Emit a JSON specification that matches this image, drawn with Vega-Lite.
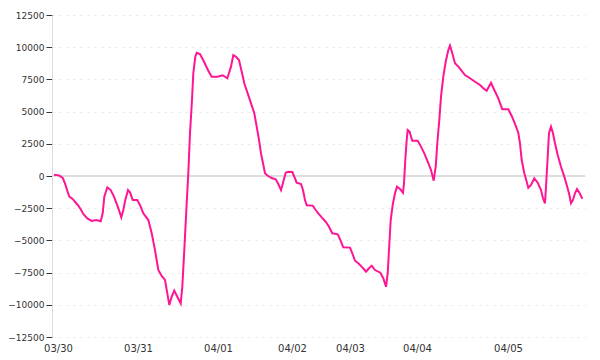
{
  "$schema": "https://vega.github.io/schema/vega-lite/v6.json",
  "autosize": {"type": "none"},
  "padding": {"left": 52, "top": 15, "right": 15, "bottom": 23},
  "width": 533,
  "height": 322,
  "background": "#ffffff",
  "config": {
    "view": {"stroke": null},
    "axisY": {
      "title": null,
      "grid": true, "gridColor": "#e6e6e6", "gridDash": [2, 5], "gridWidth": 1,
      "domain": true, "domainColor": "#dddddd", "domainWidth": 1,
      "ticks": true, "tickColor": "#333333", "tickSize": 6, "tickWidth": 1,
      "labelFont": "DejaVu Sans", "labelFontSize": 9, "labelColor": "#333333",
      "labelPadding": 2, "labelFlush": false, "labelOverlap": false, "labelBound": false
    }
  },
  "data": {"values": [
    {"t":2,"v":100},{"t":7,"v":50},{"t":10.7,"v":-150},{"t":13,"v":-570},{"t":15.3,"v":-1140},{"t":17.3,"v":-1600},{"t":20.7,"v":-1780},{"t":23,"v":-2000},{"t":26.3,"v":-2300},{"t":28.7,"v":-2580},{"t":31.3,"v":-2950},{"t":35.3,"v":-3290},{"t":39.7,"v":-3490},{"t":44,"v":-3420},{"t":48.7,"v":-3520},{"t":50.7,"v":-2900},{"t":52.3,"v":-1600},{"t":55.3,"v":-880},{"t":58.7,"v":-1090},{"t":62,"v":-1600},{"t":66.3,"v":-2500},{"t":69.3,"v":-3200},{"t":71.3,"v":-2640},{"t":73.3,"v":-1860},{"t":76,"v":-1090},{"t":78,"v":-1270},{"t":80.7,"v":-1860},{"t":85.3,"v":-1860},{"t":88.7,"v":-2380},{"t":91.3,"v":-2900},{"t":96.3,"v":-3420},{"t":99.7,"v":-4450},{"t":103,"v":-5750},{"t":106.3,"v":-7300},{"t":109.7,"v":-7760},{"t":113,"v":-8070},{"t":115.3,"v":-9110},{"t":117.3,"v":-10020},{"t":119.7,"v":-9370},{"t":122.3,"v":-8900},{"t":125.3,"v":-9370},{"t":128.7,"v":-9890},{"t":130.3,"v":-8600},{"t":132.3,"v":-5750},{"t":134.7,"v":-2120},{"t":136.3,"v":210},{"t":138,"v":3320},{"t":140,"v":5900},{"t":141.3,"v":7970},{"t":143.3,"v":9260},{"t":144.7,"v":9570},{"t":148,"v":9470},{"t":152,"v":8870},{"t":156.3,"v":8170},{"t":159.7,"v":7710},{"t":165.3,"v":7710},{"t":170.7,"v":7820},{"t":175.3,"v":7590},{"t":179,"v":8490},{"t":181.3,"v":9390},{"t":184,"v":9260},{"t":187,"v":9010},{"t":189.7,"v":8100},{"t":192.3,"v":7200},{"t":195.7,"v":6420},{"t":199,"v":5640},{"t":202.3,"v":4870},{"t":204.7,"v":3830},{"t":207,"v":2800},{"t":209,"v":1760},{"t":211,"v":990},{"t":213,"v":210},{"t":215.7,"v":20},{"t":219.7,"v":-160},{"t":223.7,"v":-260},{"t":226.3,"v":-620},{"t":229,"v":-1090},{"t":231.3,"v":-440},{"t":233.7,"v":260},{"t":236.3,"v":330},{"t":240.3,"v":310},{"t":243,"v":-180},{"t":244.7,"v":-520},{"t":249,"v":-620},{"t":251,"v":-1090},{"t":253,"v":-1860},{"t":254.7,"v":-2280},{"t":260.7,"v":-2300},{"t":263.7,"v":-2640},{"t":266.3,"v":-2900},{"t":269.7,"v":-3210},{"t":273.7,"v":-3550},{"t":277,"v":-3940},{"t":280.3,"v":-4450},{"t":285.7,"v":-4530},{"t":288,"v":-4910},{"t":291.3,"v":-5540},{"t":298,"v":-5560},{"t":300.3,"v":-6000},{"t":303,"v":-6580},{"t":306.3,"v":-6780},{"t":310.3,"v":-7090},{"t":314,"v":-7430},{"t":316.3,"v":-7220},{"t":319.7,"v":-6960},{"t":323,"v":-7300},{"t":328.3,"v":-7510},{"t":331.3,"v":-7940},{"t":334,"v":-8600},{"t":335.7,"v":-7550},{"t":337,"v":-5750},{"t":338.7,"v":-3420},{"t":340.7,"v":-2250},{"t":343,"v":-1340},{"t":345,"v":-830},{"t":348.3,"v":-1030},{"t":351,"v":-1300},{"t":352,"v":-570},{"t":353.3,"v":1240},{"t":354.7,"v":2800},{"t":355.7,"v":3570},{"t":357.7,"v":3440},{"t":358,"v":3310},{"t":360.3,"v":2740},{"t":365.7,"v":2740},{"t":369,"v":2280},{"t":372.3,"v":1760},{"t":375.7,"v":1110},{"t":379,"v":470},{"t":381.7,"v":-360},{"t":383.7,"v":720},{"t":385.3,"v":2540},{"t":387.3,"v":4350},{"t":389,"v":6160},{"t":391.3,"v":7710},{"t":393.7,"v":8870},{"t":396.3,"v":9780},{"t":398,"v":10120},{"t":400.3,"v":9530},{"t":403,"v":8750},{"t":406.3,"v":8490},{"t":409.7,"v":8170},{"t":413,"v":7840},{"t":418,"v":7590},{"t":423,"v":7320},{"t":428,"v":7070},{"t":431.3,"v":6810},{"t":434.7,"v":6620},{"t":439,"v":7240},{"t":442.3,"v":6680},{"t":446.3,"v":6030},{"t":450.3,"v":5180},{"t":456.3,"v":5180},{"t":459.7,"v":4660},{"t":463,"v":4040},{"t":466.3,"v":3360},{"t":468,"v":2540},{"t":469.7,"v":1240},{"t":472.3,"v":210},{"t":474.7,"v":-440},{"t":476.3,"v":-910},{"t":479,"v":-700},{"t":482.3,"v":-180},{"t":485.7,"v":-520},{"t":489,"v":-1090},{"t":491,"v":-1730},{"t":493,"v":-2120},{"t":494,"v":-830},{"t":495.7,"v":1500},{"t":497,"v":3320},{"t":499,"v":3830},{"t":501,"v":3320},{"t":503,"v":2540},{"t":505.7,"v":1630},{"t":509,"v":720},{"t":512.3,"v":-50},{"t":514.7,"v":-700},{"t":517,"v":-1340},{"t":519,"v":-2120},{"t":521,"v":-1860},{"t":523,"v":-1340},{"t":525,"v":-1010},{"t":527.7,"v":-1340},{"t":530.3,"v":-1770}
  ]},
  "layer": [
    {
      "mark": {"type": "rule", "color": "#dddddd", "strokeWidth": 1},
      "encoding": {"y": {"datum": 0, "type": "quantitative",
        "scale": {"domain": [-12500, 12500], "nice": false, "zero": false},
        "axis": {"values": [-12500, -10000, -7500, -5000, -2500, 0, 2500, 5000, 7500, 10000, 12500], "format": "d", "labelOverlap": false}}}
    },
    {
      "mark": {"type": "line", "color": "#ff1493", "strokeWidth": 2, "interpolate": "linear"},
      "encoding": {
        "x": {
          "field": "t", "type": "quantitative",
          "scale": {"domain": [0, 533], "nice": false, "zero": false},
          "axis": {
            "title": null, "grid": false, "domain": false, "ticks": false,
            "values": [6, 86, 166, 240, 298, 365, 456],
            "labelExpr": "datum.value==6?'03/30':datum.value==86?'03/31':datum.value==166?'04/01':datum.value==240?'04/02':datum.value==298?'04/03':datum.value==365?'04/04':'04/05'",
            "labelFont": "DejaVu Sans", "labelFontSize": 10, "labelColor": "#333333",
            "labelPadding": 6, "labelFlush": false, "labelOverlap": false
          }
        },
        "y": {
          "field": "v", "type": "quantitative",
          "scale": {"domain": [-12500, 12500], "nice": false, "zero": false},
          "axis": {"values": [-12500, -10000, -7500, -5000, -2500, 0, 2500, 5000, 7500, 10000, 12500], "format": "d", "labelOverlap": false}
        }
      }
    }
  ]
}
